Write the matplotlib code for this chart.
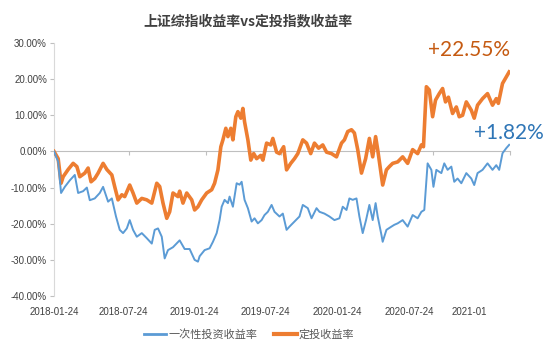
import numpy as np
import pandas as pd
import matplotlib
matplotlib.use('Agg')
import matplotlib.pyplot as plt
import matplotlib.transforms as mtransforms

plt.rcParams['font.family'] = ['Liberation Sans', 'Noto Sans CJK SC', 'DejaVu Sans']

# days since 2018-01-24, values in %
blue_days = [0, 10, 17, 26, 38, 50, 58, 70, 79, 86, 98, 110, 118, 130, 139, 149, 158, 166, 175, 182,
             190, 199, 211, 223, 235, 242, 250, 259, 266, 274, 286, 302, 314, 326, 338, 346, 350, 362,
             374, 382, 391, 398, 403, 410, 418, 422, 430, 439, 446, 451, 458, 466, 475, 482, 490, 499,
             506, 514, 523, 530, 542, 550, 559, 566, 578, 590, 598, 610, 619, 631, 638, 650, 662, 674,
             686, 694, 703, 710, 718, 727, 734, 742, 750, 758, 766, 773, 778, 787, 790, 799, 811, 818,
             826, 838, 850, 862, 874, 883, 890, 898, 907, 912, 919, 931, 938, 946, 955, 962, 970, 979,
             991, 1003, 1010, 1018, 1030, 1042, 1054, 1063, 1070, 1078, 1087, 1094]
blue_vals = [0, -2.8, -11.5, -9.8, -8, -6.5, -11.5, -11, -10, -13.5, -13, -11.5, -9.8, -13.9, -13, -18,
             -21.7, -22.6, -21.3, -19, -21.7, -23.6, -22.6, -24, -25.5, -21.7, -21.3, -23.6, -29.6,
             -27.3, -26.5, -24.6, -27, -27, -30, -30.5, -29, -27.3, -26.8, -25, -22.6, -19, -15.3,
             -13.4, -14.3, -12.5, -15.3, -8.8, -9.2, -8.4, -13.4, -15.7, -19.4, -18.5, -19.9, -19,
             -17.6, -16.7, -14.8, -16.7, -18, -17.2, -21.7, -20.8, -19.4, -18, -14.8, -15.7, -18.5,
             -15.7, -16.7, -17.2, -18, -19, -18.5, -15.3, -16.2, -13, -13.4, -13, -18, -22.6, -19,
             -14.8, -19, -14.3, -18, -23.1, -25, -21.7, -20.8, -20.3, -19.9, -19, -20.8, -17.6, -18.5,
             -16.7, -16.2, -3.3, -5.1, -9.8, -5.1, -6, -3.3, -5.1, -4.2, -8.4, -7.5, -8.8, -6, -7.5,
             -9.3, -6, -5.1, -3.3, -5.1, -3.8, -5.1, -0.5, 0.9, 1.82]

orange_days = [0, 10, 17, 22, 34, 46, 55, 62, 74, 82, 89, 98, 106, 118, 127, 139, 146, 154, 163, 170,
               182, 190, 199, 211, 223, 235, 247, 254, 262, 271, 278, 286, 298, 302, 310, 319, 331,
               338, 346, 355, 367, 379, 386, 394, 401, 406, 413, 418, 425, 430, 437, 442, 449, 454,
               458, 466, 473, 480, 487, 497, 502, 511, 521, 526, 535, 542, 552, 559, 569, 578, 586,
               598, 607, 617, 626, 636, 646, 655, 667, 679, 691, 698, 706, 715, 722, 730, 739, 749,
               758, 766, 773, 778, 785, 790, 799, 806, 814, 826, 838, 850, 862, 874, 883, 888, 895,
               902, 910, 917, 926, 934, 941, 948, 958, 967, 974, 982, 991, 1003, 1010, 1018, 1030,
               1042, 1054, 1063, 1068, 1078, 1085, 1094]
orange_vals = [0, -2, -8.8, -7, -5, -3.3, -4.2, -7, -6, -4.6, -8.4, -7.5, -6, -3.3, -5, -6.5, -9.8,
               -13.4, -12, -12.5, -9.3, -11.5, -14.3, -13, -13.4, -14.3, -8.8, -9.7, -14.3, -18.5,
               -16.7, -11.5, -12.5, -11, -14.3, -11.5, -13.4, -16.2, -15.3, -13.4, -11.5, -10.6, -8.8,
               -5.1, 1.3, 3.2, 6.4, 4.1, 6.4, 3.2, 9.6, 11, 9.2, 11.9, 8.2, 3.2, -2.4, -0.6, -2, -1.1,
               -2.4, 2.3, 1.8, 3.6, -0.2, -0.6, 1.3, -5.1, -3.3, -2, -0.6, 3.2, 2.3, -0.6, 2.3, 0.9,
               1.8, -0.2, -0.6, -1.5, 2.3, 3.2, 5.5, 6, 5.1, 0.5, -6, -2, 3.6, -1.5, 4.1, 0.5, -5.1,
               -9.3, -5.1, -4.2, -3.3, -2.9, -1.5, -3.3, 0.5, -0.6, 1.8, 1.3, 17.9, 17, 9.6, 14.2, 16,
               17.4, 13.7, 15, 10.5, 12.3, 9.6, 10, 13.7, 11.4, 9.2, 12.8, 14.6, 16, 12.8, 14.6, 13.3,
               18.8, 20.2, 22]

tick_dates = ['2018-01-24', '2018-07-24', '2019-01-24', '2019-07-24', '2020-01-24', '2020-07-24', '2021-01-24']
x_labels = ['2018-01-24', '2018-07-24', '2019-01-24', '2019-07-24', '2020-01-24', '2020-07-24', '2021-01']
blue_end = '+1.82%'
orange_end = '+22.55%'

start = pd.Timestamp('2018-01-24')
tick_days = [(pd.Timestamp(d) - start).days for d in tick_dates]
label_days = [0, 166, 338, 509, 682, 854, 998]

fig = plt.figure(figsize=(5.54, 3.52), dpi=100)
ax = fig.add_axes([54 / 554, 1 - 296 / 352, 456 / 554, 253 / 352])

ax.plot(orange_days, orange_vals, color='#ED7D31', lw=2.6, solid_joinstyle='round', zorder=3)
ax.plot(blue_days, blue_vals, color='#5B9BD5', lw=1.4, solid_joinstyle='round', zorder=4)

ax.set_xlim(0, tick_days[-1])
ax.set_ylim(-40, 30)
ax.set_yticks(np.arange(-40, 31, 10))
ax.set_yticklabels([f'{v:.2f}%' for v in np.arange(-40, 31, 10)])
ax.tick_params(axis='y', length=3, color='#BFBFBF', labelsize=7, labelcolor='#404040', pad=2)

ax.spines['top'].set_visible(False)
ax.spines['right'].set_visible(False)
ax.spines['left'].set_color('#D9D9D9')
ax.spines['bottom'].set_position(('data', 0))
ax.spines['bottom'].set_color('#BFBFBF')
ax.set_xticks(tick_days)
ax.tick_params(axis='x', length=3, color='#BFBFBF', labelbottom=False)

trans = mtransforms.blended_transform_factory(ax.transData, ax.transAxes)
for d, lab in zip(label_days, x_labels):
    ax.text(d, -0.063, lab, transform=trans, ha='center', va='center', fontsize=7, color='#404040')

ax.text(998, 28, orange_end, ha='center', va='center', fontsize=15, color='#C55A11', family='Lato')
ax.text(1094, 5.1, blue_end, ha='center', va='center', fontsize=15, color='#2E75B6', family='Lato')

fig.text(0.448, 0.94, '上证综指收益率vs定投指数收益率', ha='center', va='center', fontsize=10,
         fontweight='bold', color='#404040', family=['Noto Sans CJK SC', 'DejaVu Sans'])

h1, = ax.plot([], [], color='#5B9BD5', lw=2)
h2, = ax.plot([], [], color='#ED7D31', lw=3)
fig.legend([h1, h2], ['一次性投资收益率', '定投收益率'], loc='center', bbox_to_anchor=(0.45, 0.051),
           ncol=2, frameon=False, prop={'family': 'Noto Sans CJK SC', 'size': 8},
           labelcolor='#595959', handlelength=2.0, columnspacing=1.5, handletextpad=0.2)

fig.savefig('out.png', dpi=100)
